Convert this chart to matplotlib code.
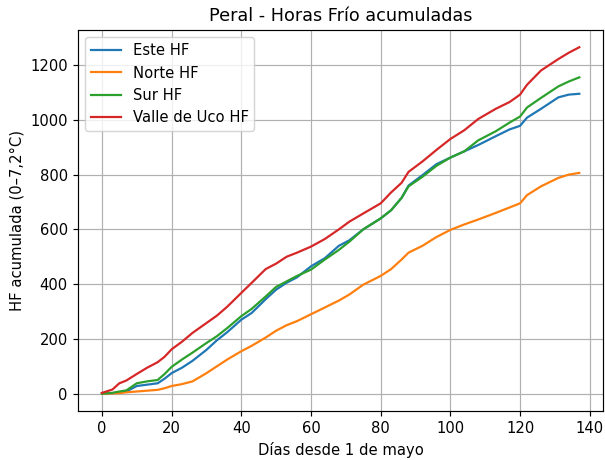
import matplotlib
matplotlib.use("Agg")
import matplotlib.pyplot as plt

# dias desde 1 de mayo
dias = [0, 3, 5, 7, 10, 13, 16, 18, 20, 23, 26, 30, 33, 36, 40, 43, 47, 50, 53, 56,
        60, 64, 68, 71, 75, 80, 83, 86, 88, 92, 96, 100, 104, 108, 113, 117, 120,
        122, 126, 131, 134, 137]

este_hf = [0, 2, 5, 8, 28, 33, 38, 55, 75, 95, 120, 160, 195, 225, 270, 295, 345, 380,
           405, 425, 465, 495, 540, 560, 600, 640, 670, 715, 760, 798, 838, 862, 885,
           908, 940, 965, 978, 1008, 1040, 1082, 1092, 1095]
norte_hf = [0, 1, 2, 5, 8, 11, 14, 20, 28, 35, 45, 75, 100, 125, 155, 175, 205, 230,
            250, 265, 290, 315, 340, 362, 398, 430, 455, 490, 515, 540, 572, 598, 618,
            636, 660, 680, 695, 725, 757, 788, 800, 806]
sur_hf = [0, 3, 8, 12, 38, 45, 50, 72, 98, 125, 150, 185, 210, 240, 283, 310, 355, 390,
          410, 430, 453, 490, 525, 555, 600, 640, 670, 715, 757, 792, 832, 862, 885,
          925, 958, 990, 1012, 1045, 1080, 1122, 1140, 1155]
valle_uco_hf = [3, 15, 38, 48, 72, 95, 115, 135, 162, 190, 222, 258, 285, 318, 368, 405,
                455, 475, 500, 515, 537, 565, 600, 628, 658, 695, 735, 770, 810, 848,
                890, 930, 962, 1003, 1040, 1065, 1092, 1128, 1180, 1222, 1245, 1265]

DPI = 106
fig = plt.figure(figsize=(605 / DPI, 460 / DPI), dpi=DPI)
ax = fig.add_axes([0.129, 0.1065, 0.868, 0.8285])

ax.plot(dias, este_hf, label="Este HF")
ax.plot(dias, norte_hf, label="Norte HF")
ax.plot(dias, sur_hf, label="Sur HF")
ax.plot(dias, valle_uco_hf, label="Valle de Uco HF")

ax.set_title("Peral - Horas Frío acumuladas")
ax.set_xlabel("Días desde 1 de mayo")
ax.set_ylabel("HF acumulada (0–7,2°C)")
ax.grid(True)
ax.legend(loc="upper left")

fig.savefig("out.png", dpi=DPI)
